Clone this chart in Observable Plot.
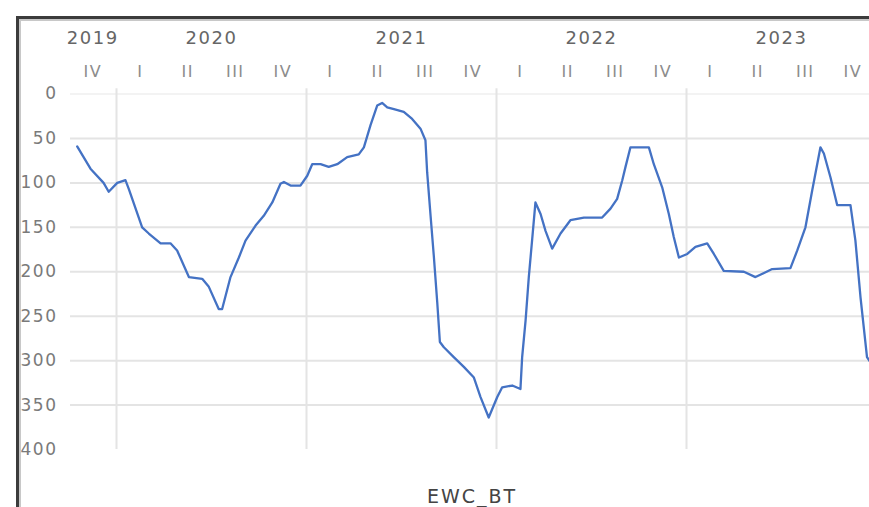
<!DOCTYPE html>
<html><head><meta charset="utf-8">
<script src="https://cdn.jsdelivr.net/npm/d3@7"></script>
<script src="https://cdn.jsdelivr.net/npm/@observablehq/plot@0.6"></script>
<style>
html,body{margin:0;padding:0;background:#fff;overflow:hidden;width:869px;height:507px}
#chart{position:absolute;left:0;top:0}
.frame{position:absolute;left:16px;top:16px;width:900px;height:600px;border-top:3px solid #3c3c3c;border-left:3px solid #3c3c3c;pointer-events:none;z-index:2}
.frame2{position:absolute;left:19px;top:19px;width:900px;height:600px;border-top:2px solid #c8c8c8;border-left:2px solid #c8c8c8;pointer-events:none;z-index:2}
#caption{position:absolute;left:0;width:944px;top:485px;text-align:center;font:19px "DejaVu Sans";letter-spacing:2px;color:#444}
</style></head>
<body>
<div id="chart"></div>
<div class="frame"></div><div class="frame2"></div>
<div id="caption">EWC_BT</div>
<script>
// decimal-year position of each observation
const period = [
2019.793,2019.863,2019.932,2019.959,2020.004,2020.047,2020.065,2020.135,2020.170,2020.232,
2020.284,2020.319,2020.381,2020.451,2020.486,2020.538,2020.556,2020.600,2020.644,2020.679,
2020.732,2020.775,2020.820,2020.863,2020.881,2020.916,2020.968,2021.004,2021.030,2021.074,
2021.117,2021.162,2021.214,2021.275,2021.302,2021.337,2021.372,2021.398,2021.425,2021.460,
2021.512,2021.556,2021.600,2021.626,2021.635,2021.653,2021.670,2021.688,2021.702,2021.723,
2021.775,2021.828,2021.881,2021.916,2021.959,2022.004,2022.030,2022.083,2022.126,2022.135,
2022.153,2022.170,2022.188,2022.205,2022.232,2022.258,2022.293,2022.337,2022.389,2022.460,
2022.556,2022.600,2022.635,2022.662,2022.679,2022.705,2022.802,2022.828,2022.872,2022.907,
2022.933,2022.960,2023.004,2023.047,2023.109,2023.144,2023.196,2023.302,2023.363,2023.451,
2023.547,2023.583,2023.626,2023.662,2023.705,2023.723,2023.758,2023.793,2023.820,2023.863,
2023.889,2023.916,2023.950,2023.968
];
const values = [
59,84,100,110,100,97,107,150,157,168,
168,176,206,208,217,242,242,206,184,165,
148,137,122,101,99,103,103,92,79,79,
82,79,71,68,60,35,13,10,15,17,
20,28,39,52,88,137,182,234,279,285,
296,307,319,341,364,341,330,328,332,296,
255,206,163,122,135,154,174,157,142,139,
139,129,118,97,82,60,60,79,105,135,
161,184,180,172,168,180,199,200,206,197,
196,176,150,108,60,67,94,125,125,125,
165,229,296,302
];
const quarterLabels = ["IV","I","II","III","IV","I","II","III","IV","I","II","III","IV","I","II","III","IV"];
const years = ["2019","2020","2021","2022","2023"];
const yTicks = [0,50,100,150,200,250,300,350,400];
const gridY = [50,100,150,200,250,300,350];

const data = period.map((p,i)=>({t:p, v:values[i]}));
const start = 2019.75;
const qData = quarterLabels.map((q,i)=>({t: start + (i+0.5)*0.25, label:q}));
const yData = years.map((y,i)=>{
  const a = i===0 ? start : +y, b = +y + 1;
  return {t:(a+b)/2, label:y};
});
const yearBounds = years.slice(1).map(y=>+y);

const chart = Plot.plot({
  width: 869, height: 507,
  marginLeft: 70, marginRight: 0, marginTop: 93.5, marginBottom: 58,
  style: {fontFamily: "DejaVu Sans", background: "transparent", letterSpacing: "1.5px"},
  x: {domain: [start, 2024], range: [68.5, 876], axis: null},
  y: {domain: [0, 400], reverse: true, axis: null},
  marks: [
    Plot.ruleY([0], {stroke: "#efefef", strokeWidth: 1.5}),
    Plot.ruleY(gridY, {stroke: "#e4e4e4", strokeWidth: 2}),
    Plot.ruleX(yearBounds, {y1: -6, y2: 400, stroke: "#e4e4e4", strokeWidth: 2}),
    Plot.text(yTicks, {y: d=>d, frameAnchor: "left", dx: -13, textAnchor: "end", fill: "#7a7a7a", fontSize: 17}),
    Plot.text(qData, {x: "t", text: "label", frameAnchor: "top", dy: -22, lineAnchor: "middle", fill: "#8c8c8c", fontSize: 16}),
    Plot.text(yData, {x: "t", text: "label", frameAnchor: "top", dy: -56, lineAnchor: "middle", fill: "#666", fontSize: 18}),
    Plot.line(data, {x: "t", y: "v", stroke: "#4472C4", strokeWidth: 2.3})
  ]
});
document.getElementById("chart").appendChild(chart);
</script>
</body></html>
